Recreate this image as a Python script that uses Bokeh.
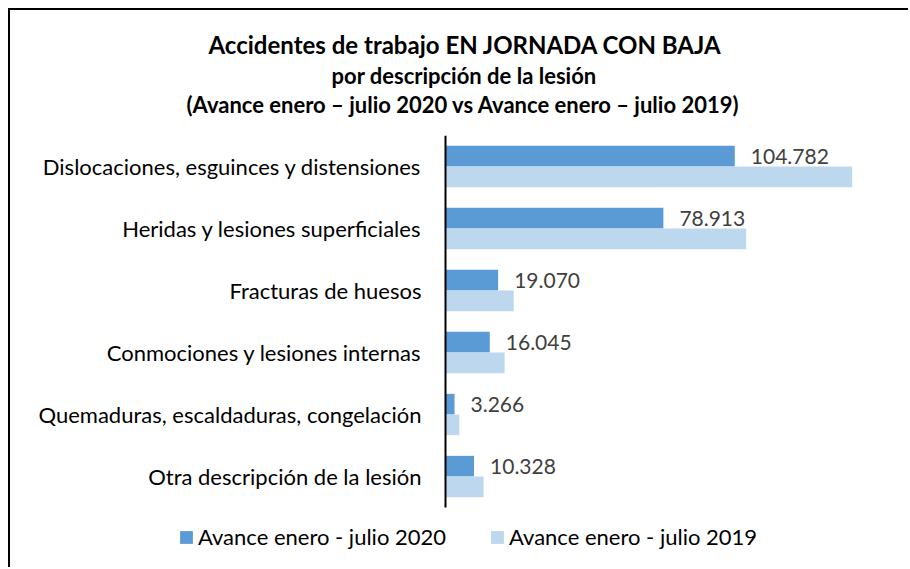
from bokeh.plotting import figure
from bokeh.models import FactorRange, ColumnDataSource, Title, Legend, LegendItem, Spacer
from bokeh.layouts import row, column
from bokeh.transform import dodge
from bokeh.core.properties import value
from bokeh.embed import file_html
from bokeh.resources import INLINE

categories = [
    "Dislocaciones, esguinces y distensiones",
    "Heridas y lesiones superficiales",
    "Fracturas de huesos",
    "Conmociones y lesiones internas",
    "Quemaduras, escaldaduras, congelación",
    "Otra descripción de la lesión",
]
serie_2020 = [104782, 78913, 19070, 16045, 3266, 10328]
serie_2019 = [147300, 108900, 24700, 21400, 5000, 13800]
etiquetas_2020 = ["104.782", "78.913", "19.070", "16.045", "3.266", "10.328"]
nombre_2020 = "Avance enero - julio 2020"
nombre_2019 = "Avance enero - julio 2019"
titulo_1 = "Accidentes de trabajo EN JORNADA CON BAJA"
titulo_2 = "por descripción de la lesión"
titulo_3 = "(Avance enero – julio 2020 vs Avance enero – julio 2019)"

FONT = "Lato"
LEGEND_ROW = " "   # empty band at the bottom of the frame that holds the legend

src = ColumnDataSource(dict(cat=categories, v20=serie_2020, v19=serie_2019, lab=etiquetas_2020))
axis_src = ColumnDataSource(dict(x=[0], y0=[categories[-1]], y1=[categories[0]]))

# frame spans the whole width; value axis zero sits 435 px from the left edge
px_per_unit = 289.3 / 104782
p = figure(
    width=900, height=559,
    y_range=FactorRange(factors=[LEGEND_ROW] + list(reversed(categories)), range_padding=0),
    x_range=(-435 / px_per_unit, 465 / px_per_unit),
    output_backend="svg", toolbar_location=None,
    min_border_left=0, min_border_right=0, min_border_top=125, min_border_bottom=0,
)
p.styles = {"border-left": "2px solid black", "border-top": "2px solid black"}

r20 = p.hbar(y=dodge("cat", 0.1667, range=p.y_range), right="v20", left=0, height=0.333,
             source=src, fill_color="#5B9BD5", line_color=None)
r19 = p.hbar(y=dodge("cat", -0.1667, range=p.y_range), right="v19", left=0, height=0.333,
             source=src, fill_color="#BDD7EE", line_color=None)

p.text(x="v20", y=dodge("cat", 0.1667, range=p.y_range), text="lab", source=src,
       x_offset=16, text_baseline="middle", text_align="left",
       text_font=value(FONT), text_font_size="21px", text_color="#404040")

# category axis line, limited to the category bands
p.segment(x0="x", x1="x", y0=dodge("y0", -0.5, range=p.y_range),
          y1=dodge("y1", 0.5, range=p.y_range), source=axis_src,
          line_color="black", line_width=2)

p.xaxis.visible = False
p.xgrid.visible = False
p.ygrid.visible = False
p.outline_line_color = None

ya = p.yaxis[0]
ya.fixed_location = 0
ya.axis_line_color = None
ya.major_tick_line_color = None
ya.minor_tick_line_color = None
ya.major_label_standoff = 18
ya.major_label_text_font = FONT
ya.major_label_text_font_size = "22px"
ya.major_label_text_color = "black"

spacer = Title(text=" ", text_font_size="10px", standoff=4)
t3 = Title(text=titulo_3, align="left", offset=176, standoff=1, text_color="black",
           text_font=FONT, text_font_size="22px", text_font_style="bold")
t2 = Title(text=titulo_2, align="left", offset=321, standoff=0, text_color="black",
           text_font=FONT, text_font_size="22px", text_font_style="bold")
t1 = Title(text=titulo_1, align="left", offset=198, standoff=2, text_color="black",
           text_font=FONT, text_font_size="24px", text_font_style="bold")
p.add_layout(spacer, "above")
p.add_layout(t3, "above")
p.add_layout(t2, "above")
p.add_layout(t1, "above")

legend = Legend(items=[LegendItem(label=nombre_2020, renderers=[r20]),
                       LegendItem(label=nombre_2019, renderers=[r19])],
                orientation="horizontal", location=(168, 19),
                border_line_alpha=0, background_fill_alpha=0, padding=0, margin=0,
                spacing=43, label_standoff=4, glyph_width=16, glyph_height=16,
                label_text_font=FONT, label_text_font_size="22px", label_height=22,
                label_text_color="black")
p.add_layout(legend, "center")

page = row(Spacer(width=8, height=561), column(Spacer(width=902, height=8), p))

open("out.html", "w").write(file_html(page, INLINE))
